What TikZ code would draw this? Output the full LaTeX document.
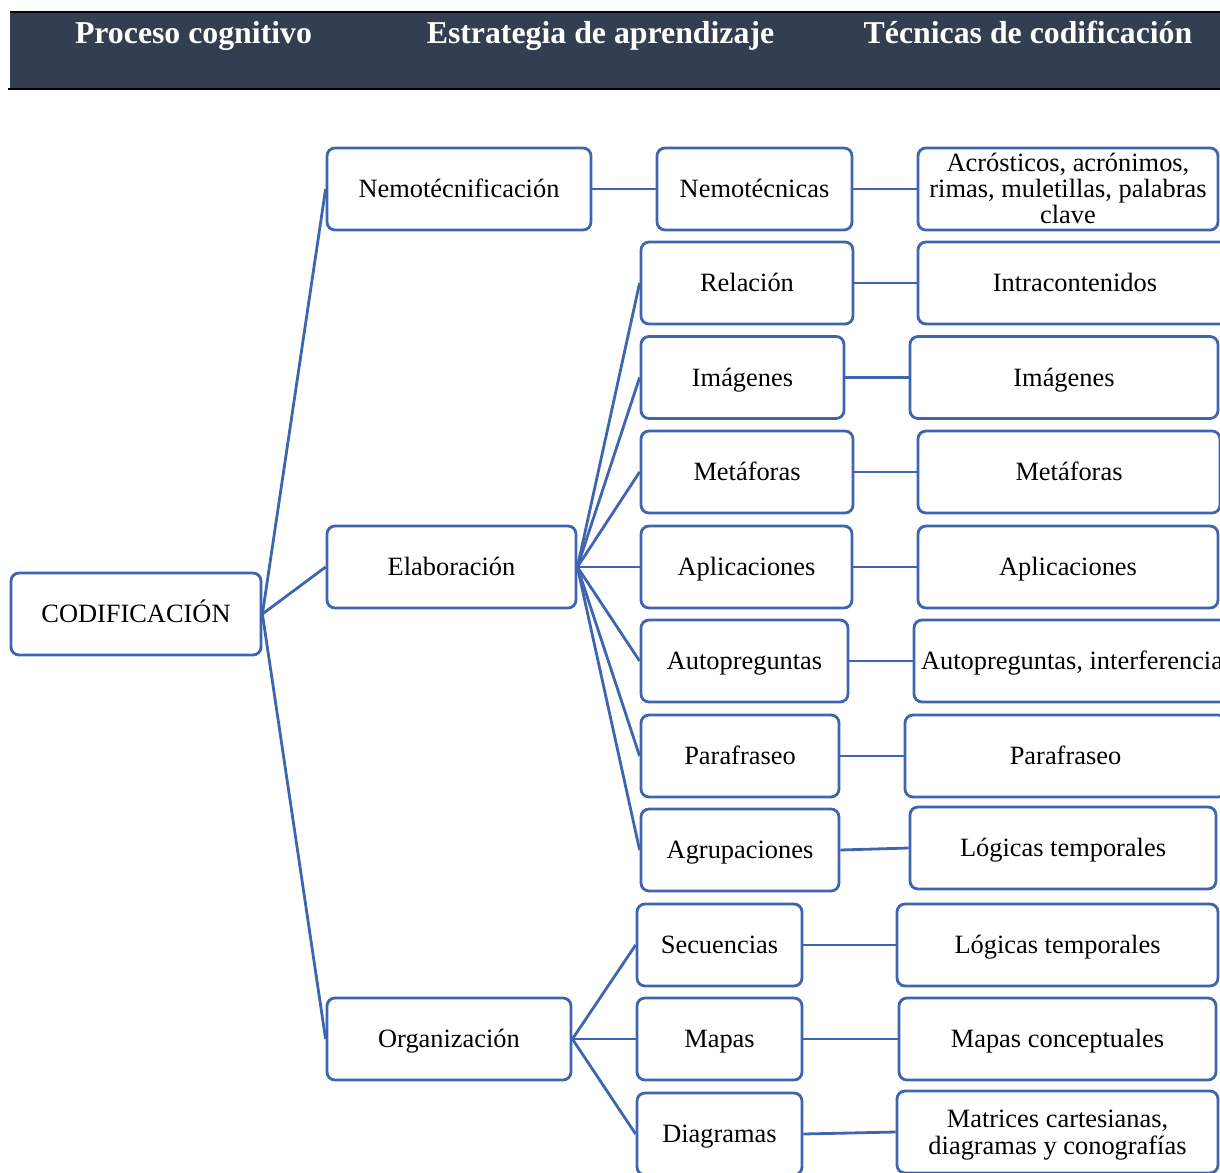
\documentclass[tikz,border=0pt]{standalone}
\usepackage{fontspec}
\setmainfont{Liberation Serif}
\definecolor{boxblue}{RGB}{62,101,175}
\definecolor{headbg}{RGB}{51,62,80}
\begin{document}
\begin{tikzpicture}[x=1pt,y=-1pt,
  box/.style={draw=boxblue, line width=2.8pt, rounded corners=8pt, fill=white,
    inner sep=0pt, font=\fontsize{26.4}{26}\selectfont, align=center,
    text height=23.8pt, text depth=6.3pt, minimum height=82pt},
  link/.style={draw=boxblue, line width=2.8pt},
  head/.style={text=white, font=\bfseries\fontsize{31.8}{34}\selectfont, anchor=base}]
\useasboundingbox (0,0) rectangle (1220,1172);
\clip (0,0) rectangle (1220,1172);
% header band
\fill[headbg] (10,12) rectangle (1222,88);
\draw[black, line width=2.5pt] (10,12) -- (1222,12);
\draw[black, line width=2.5pt] (8,89) -- (1222,89);
\node[head] (h1) at (193.5,44) {Proceso cognitivo};
\node[head] (h2) at (600.5,44) {Estrategia de aprendizaje};
\node[head] (h3) at (1028,44) {Técnicas de codificación};
% level 1
\node[box, minimum width=250pt] (cod) at (136,614) {CODIFICACIÓN};
% level 2
\node[box, minimum width=264pt] (nemf) at (459,189) {Nemotécnificación};
\node[box, minimum width=249pt] (elab) at (451.5,567) {Elaboración};
\node[box, minimum width=244pt] (org) at (449,1039) {Organización};
% level 3
\node[box, minimum width=195pt] (nemt) at (754.5,189) {Nemotécnicas};
\node[box, minimum width=212pt] (rel) at (747,283) {Relación};
\node[box, minimum width=203pt] (img) at (742.5,377.5) {Imágenes};
\node[box, minimum width=212pt] (met) at (747,472) {Metáforas};
\node[box, minimum width=211pt] (apl) at (746.5,567) {Aplicaciones};
\node[box, minimum width=207pt] (auto) at (744.5,661) {Autopreguntas};
\node[box, minimum width=198pt] (par) at (740,756) {Parafraseo};
\node[box, minimum width=198pt] (agr) at (740,850) {Agrupaciones};
\node[box, minimum width=165pt] (sec) at (719.5,945) {Secuencias};
\node[box, minimum width=165pt] (map) at (719.5,1039) {Mapas};
\node[box, minimum width=165pt] (dia) at (719.5,1134) {Diagramas};
% level 4
\node[box, minimum width=300pt, text height=75.8pt] (acr) at (1068,189) {Acrósticos, acrónimos,\\rimas, muletillas, palabras\\clave};
\node[box, minimum width=314pt] (intra) at (1075,283) {Intracontenidos};
\node[box, minimum width=308pt] (imgR) at (1064,377.5) {Imágenes};
\node[box, minimum width=302pt] (metR) at (1069,472) {Metáforas};
\node[box, minimum width=300pt] (aplR) at (1068,567) {Aplicaciones};
\node[box, minimum width=316pt] (autoR) at (1072,661) {Autopreguntas, interferencia};
\node[box, minimum width=321pt] (parR) at (1065.5,756) {Parafraseo};
\node[box, minimum width=306pt] (log1) at (1063,848) {Lógicas temporales};
\node[box, minimum width=321pt] (log2) at (1057.5,945) {Lógicas temporales};
\node[box, minimum width=317pt] (mapc) at (1057.5,1039) {Mapas conceptuales};
\node[box, minimum width=321pt, font=\fontsize{26.4}{27}\selectfont, text height=50.8pt] (mat) at (1057.5,1132) {Matrices cartesianas,\\diagramas y conografías};
% connectors
\foreach \t in {nemf,elab,org} \draw[link] (cod.east) -- (\t.west);
\draw[link] (nemf.east) -- (nemt.west);
\foreach \t in {rel,img,met,apl,auto,par,agr} \draw[link] (elab.east) -- (\t.west);
\foreach \t in {sec,map,dia} \draw[link] (org.east) -- (\t.west);
\draw[link] (nemt.east) -- (acr.west);
\draw[link] (rel.east) -- (intra.west);
\draw[link] (img.east) -- (imgR.west);
\draw[link] (met.east) -- (metR.west);
\draw[link] (apl.east) -- (aplR.west);
\draw[link] (auto.east) -- (autoR.west);
\draw[link] (par.east) -- (parR.west);
\draw[link] (agr.east) -- (log1.west);
\draw[link] (sec.east) -- (log2.west);
\draw[link] (map.east) -- (mapc.west);
\draw[link] (dia.east) -- (mat.west);
\end{tikzpicture}
\end{document}
